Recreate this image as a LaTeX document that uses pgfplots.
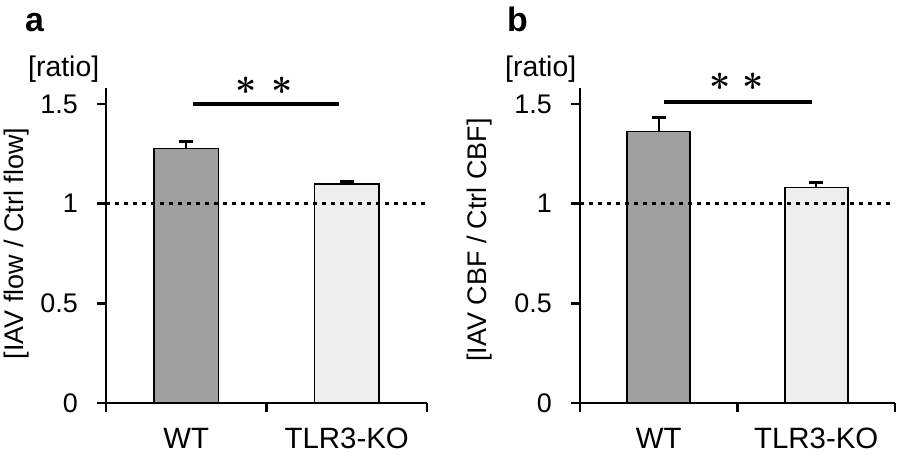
\documentclass[border=0pt]{standalone}
\usepackage{fontspec}
\setmainfont{Liberation Sans}
\usepackage{pgfplots}
\pgfplotsset{compat=1.18}
\definecolor{wtgray}{RGB}{160,160,160}
\definecolor{kogray}{RGB}{238,238,238}
\pgfplotsset{
  panel/.style={
    scale only axis,
    height=315bp,
    xmin=0, xmax=2, ymin=0, ymax=1.58,
    axis lines*=left,
    axis line style={line width=2.6bp, black},
    tick align=outside,
    major tick length=9bp,
    every tick/.style={line width=2.6bp, black},
    xtick={0,1,2}, xticklabels={},
    ytick={0,0.5,1,1.5},
    yticklabels={0,0.5,1,1.5},
    yticklabel style={font=\fontsize{27}{30}\selectfont, inner sep=0pt, anchor=east, xshift=-19bp},
    extra x ticks={0.5,1.5},
    extra x tick labels={WT,TLR3-KO},
    extra x tick style={major tick length=0pt, every tick/.style={draw=none},
      xticklabel style={font=\fontsize{29.5}{32}\selectfont, inner sep=0pt, anchor=base, yshift=-45bp}},
    ybar, bar shift=0pt, bar width=0.4,
    clip=false,
    /pgf/number format/assume math mode=true,
  },
  barwt/.style={fill=wtgray, draw=black, line width=1.6bp,
    error bars/.cd, y dir=plus, y explicit,
    error bar style={line width=2bp, black},
    error mark options={rotate=90, mark size=7bp, line width=2.8bp, black}},
  barko/.style={fill=kogray, draw=black, line width=1.6bp,
    error bars/.cd, y dir=plus, y explicit,
    error bar style={line width=2bp, black},
    error mark options={rotate=90, mark size=7bp, line width=2.8bp, black}},
  refline/.style={sharp plot, black, line width=3.5bp, dash pattern=on 4bp off 5bp, forget plot},
  sigline/.style={sharp plot, black, line width=3.3bp, forget plot},
}
\newcommand{\sig}{\scalebox{3.7}{\boldmath$\ast$}}
\begin{document}
\begin{tikzpicture}
\useasboundingbox (0,0) rectangle (898bp,461bp);
% ---- panel a ----
\begin{axis}[panel, at={(106bp,58bp)}, anchor=origin, width=321bp]
\addplot[barwt] coordinates {(0.5,1.276) +- (0,0.034)};
\addplot[barko] coordinates {(1.5,1.098) +- (0,0.012)};
\addplot[refline] coordinates {(0,1) (2,1)};
\addplot[sigline] coordinates {(0.542,1.5) (1.452,1.5)};
\node[inner sep=0pt] at (axis cs:0.872,1.59) {\sig};
\node[inner sep=0pt] at (axis cs:1.097,1.59) {\sig};
\end{axis}
% ---- panel b ----
\begin{axis}[panel, at={(580bp,58bp)}, anchor=origin, width=315bp]
\addplot[barwt] coordinates {(0.5,1.362) +- (0,0.07)};
\addplot[barko] coordinates {(1.5,1.08) +- (0,0.025)};
\addplot[refline] coordinates {(0,1) (2,1)};
\addplot[sigline] coordinates {(0.533,1.51) (1.473,1.51)};
\node[inner sep=0pt] at (axis cs:0.889,1.61) {\sig};
\node[inner sep=0pt] at (axis cs:1.098,1.61) {\sig};
\end{axis}
% ---- labels ----
\node[anchor=base west, inner sep=0pt, font=\fontsize{34}{36}\selectfont\bfseries] at (25bp,429bp) {a};
\node[anchor=base west, inner sep=0pt, font=\fontsize{34}{36}\selectfont\bfseries] at (507bp,429bp) {b};
\node[anchor=base west, inner sep=0pt, font=\fontsize{28.5}{30}\selectfont] at (28bp,384bp) {[ratio]};
\node[anchor=base west, inner sep=0pt, font=\fontsize{28.5}{30}\selectfont] at (505bp,384bp) {[ratio]};
\node[rotate=90, inner sep=0pt, font=\fontsize{27}{30}\selectfont] at (17bp,217.5bp) {[IAV flow / Ctrl flow]};
\node[rotate=90, inner sep=0pt, font=\fontsize{27}{30}\selectfont] at (480bp,221bp) {[IAV CBF / Ctrl CBF]};
\end{tikzpicture}
\end{document}
